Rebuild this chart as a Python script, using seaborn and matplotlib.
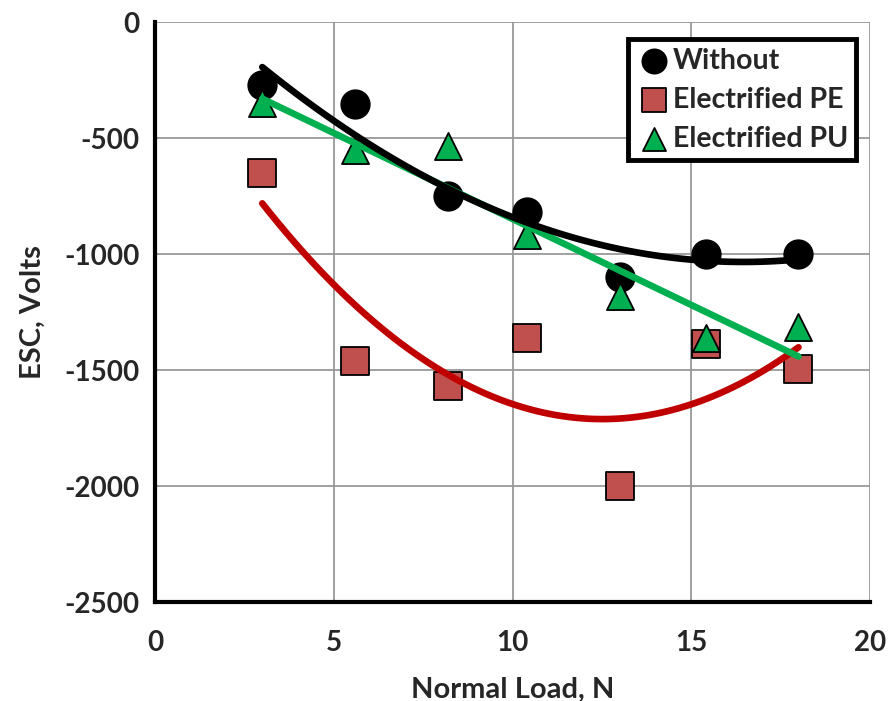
import numpy as np
import pandas as pd
import matplotlib
matplotlib.use('Agg')
import matplotlib.pyplot as plt
import seaborn as sns

# ---- data ----
load_n = [3, 5.6, 8.2, 10.4, 13, 15.4, 18]
esc_without = [-270, -355, -750, -820, -1100, -1000, -1000]
esc_pe = [-650, -1460, -1570, -1360, -2000, -1390, -1495]
esc_pu = [-350, -550, -535, -920, -1180, -1360, -1315]

series_names = ['Without', 'Electrified PE', 'Electrified PU']

df = pd.DataFrame({
    'load': load_n * 3,
    'esc': esc_without + esc_pe + esc_pu,
    'group': np.repeat(series_names, len(load_n)),
})

sns.set_style('white')
plt.rcParams['font.family'] = ['Lato', 'DejaVu Sans']
plt.rcParams['font.weight'] = 'bold'
plt.rcParams['axes.unicode_minus'] = False

fig = plt.figure(figsize=(8.89, 7.01), dpi=100)
ax = fig.add_axes([0.1744, 0.1412, 0.8042, 0.8274])

marker_map = {'Without': 'o', 'Electrified PE': 's', 'Electrified PU': '^'}
color_map = {'Without': 'black', 'Electrified PE': '#C0504D', 'Electrified PU': '#00B050'}
size_map = {'Without': 420, 'Electrified PE': 380, 'Electrified PU': 380}

for name in series_names:
    sub = df[df['group'] == name]
    sns.scatterplot(data=sub, x='load', y='esc', marker=marker_map[name],
                    color=color_map[name], s=size_map[name],
                    edgecolor='black', linewidth=1.3, label=name, ax=ax, zorder=3)

# trendlines (2nd order for Without / PE, linear for PU)
sub = df[df['group'] == 'Electrified PE']
sns.regplot(data=sub, x='load', y='esc', order=2, ci=None, scatter=False, truncate=True,
            line_kws={'color': '#C00000', 'lw': 4.8, 'zorder': 4, 'solid_capstyle': 'round'}, ax=ax)
sub = df[df['group'] == 'Electrified PU']
sns.regplot(data=sub, x='load', y='esc', order=1, ci=None, scatter=False, truncate=True,
            line_kws={'color': '#00B050', 'lw': 4.8, 'zorder': 4, 'solid_capstyle': 'round'}, ax=ax)
sub = df[df['group'] == 'Without']
sns.regplot(data=sub, x='load', y='esc', order=2, ci=None, scatter=False, truncate=True,
            line_kws={'color': 'black', 'lw': 4.8, 'zorder': 5, 'solid_capstyle': 'round'}, ax=ax)

ax.set_xlim(0, 20)
ax.set_ylim(-2500, 0)
ax.set_xticks([0, 5, 10, 15, 20])
ax.set_yticks([0, -500, -1000, -1500, -2000, -2500])
ax.grid(True, color='#999999', lw=1.3)
ax.set_axisbelow(True)
ax.tick_params(length=0, labelsize=20)
ax.tick_params(axis='x', pad=20)
ax.tick_params(axis='y', pad=11)
for lab in ax.get_xticklabels() + ax.get_yticklabels():
    lab.set_fontweight('bold')

for side in ['top', 'right']:
    ax.spines[side].set_visible(False)
for side in ['left', 'bottom']:
    ax.spines[side].set_color('black')
    ax.spines[side].set_linewidth(3)

ax.set_xlabel('Normal Load, N', fontsize=21, fontweight='bold', labelpad=15)
ax.set_ylabel('ESC, Volts', fontsize=21, fontweight='bold', labelpad=13)

leg = ax.legend(loc='upper right', bbox_to_anchor=(0.981, 0.970), borderaxespad=0,
                fontsize=20.5, frameon=True, fancybox=False, framealpha=1, edgecolor='black',
                handletextpad=0.05, borderpad=0.3, labelspacing=0.45, handlelength=1.2,
                markerscale=0.85)
leg.get_frame().set_linewidth(3.5)
for t in leg.get_texts():
    t.set_fontweight('bold')

fig.savefig('out.png', dpi=100)
